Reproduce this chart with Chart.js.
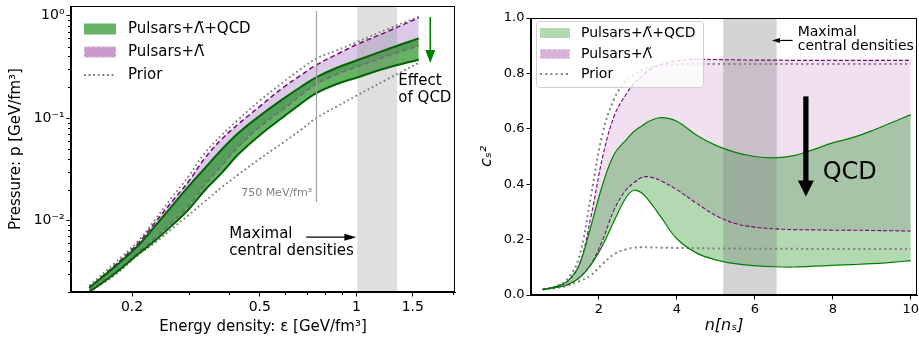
<!DOCTYPE html>
<html><head><meta charset="utf-8">
<script src="https://cdn.jsdelivr.net/npm/chart.js@4"></script>
<style>
html,body{margin:0;padding:0;background:#fff;width:919px;height:342px;overflow:hidden}
#l{position:absolute;left:0;top:0;width:460px;height:342px}
#r{position:absolute;left:460px;top:0;width:459px;height:342px}
</style></head><body>
<div id="l"><canvas id="cl"></canvas></div>
<div id="r"><canvas id="cr"></canvas></div>
<script>
// ---------- Left panel data: pressure vs energy density ----------
const epsilon     = [0.147,0.176,0.209,0.235,0.265,0.300,0.336,0.380,0.428,0.50,0.593,0.669,0.75,0.87,1.0,1.25,1.565];
const pQcdUpper   = [0.0022,0.0035,0.0057,0.0087,0.0136,0.0215,0.032,0.049,0.071,0.105,0.155,0.20,0.25,0.31,0.365,0.47,0.60];
const pQcdLower   = [0.0020,0.0030,0.0047,0.0063,0.0088,0.0128,0.0195,0.029,0.044,0.068,0.103,0.137,0.175,0.215,0.248,0.31,0.372];
const pPulsUpper  = [0.0022,0.0036,0.0060,0.0094,0.015,0.024,0.040,0.062,0.087,0.13,0.20,0.26,0.33,0.42,0.52,0.70,0.956];
const pPulsLower  = [0.0021,0.0031,0.0049,0.0067,0.0095,0.014,0.022,0.034,0.052,0.082,0.122,0.165,0.215,0.268,0.315,0.405,0.508];
const pPriorUpper = [0.0023,0.0038,0.0063,0.0100,0.0165,0.027,0.045,0.068,0.096,0.148,0.225,0.30,0.38,0.46,0.55,0.74,0.975];
const pPriorLower = [0.0020,0.0029,0.0046,0.0060,0.0082,0.0113,0.0152,0.021,0.028,0.040,0.058,0.076,0.10,0.13,0.165,0.24,0.345];
const leftXTicks  = [0.2,0.5,1,1.5];
const leftXLabels = ['0.2','0.5','1','1.5'];
const leftXMinor  = [0.3,0.4,0.6,0.7,0.8,0.9,2];
const leftYTicks  = [1,0.1,0.01];
const leftYLabels = ['10⁰','10⁻¹','10⁻²'];
const leftYMinor  = [0.002,0.003,0.004,0.005,0.006,0.007,0.008,0.009,0.02,0.03,0.04,0.05,0.06,0.07,0.08,0.09,0.2,0.3,0.4,0.5,0.6,0.7,0.8,0.9];

// ---------- Right panel data: speed of sound squared vs density ----------
const nDensity    = [0.56,0.9,1.2,1.5,1.8,2.1,2.4,2.7,2.9,3.1,3.3,3.6,4.0,4.5,5.0,5.5,6.0,6.5,7.0,7.5,8.0,8.5,9.0,9.5,10.0];
const cQcdUpper   = [0.02,0.03,0.05,0.11,0.25,0.40,0.51,0.56,0.59,0.61,0.628,0.64,0.627,0.578,0.54,0.515,0.50,0.495,0.503,0.525,0.549,0.568,0.593,0.622,0.651];
const cQcdLower   = [0.02,0.027,0.037,0.062,0.11,0.18,0.27,0.352,0.378,0.368,0.338,0.28,0.203,0.152,0.127,0.113,0.106,0.102,0.101,0.104,0.107,0.110,0.113,0.118,0.124];
const cPulsUpper  = [0.02,0.03,0.05,0.11,0.285,0.50,0.649,0.725,0.763,0.79,0.813,0.832,0.845,0.851,0.85,0.849,0.848,0.848,0.847,0.847,0.847,0.847,0.847,0.847,0.847];
const cPulsLower  = [0.02,0.027,0.037,0.063,0.112,0.20,0.31,0.38,0.405,0.424,0.426,0.412,0.38,0.332,0.287,0.258,0.245,0.239,0.236,0.235,0.234,0.234,0.233,0.232,0.231];
const cPriorUpper = [0.02,0.031,0.058,0.14,0.36,0.585,0.71,0.775,0.795,0.812,0.822,0.83,0.833,0.834,0.834,0.834,0.834,0.834,0.834,0.834,0.834,0.834,0.834,0.834,0.834];
const cPriorLower = [0.02,0.025,0.034,0.05,0.072,0.113,0.148,0.165,0.171,0.172,0.172,0.171,0.17,0.169,0.168,0.168,0.167,0.167,0.167,0.166,0.166,0.166,0.166,0.166,0.166];
const rightXTicks = [2,4,6,8,10];
const rightYTicks = [0,0.2,0.4,0.6,0.8,1.0];

const labelQcd = 'Pulsars+Λ̃+QCD';
const labelPuls = 'Pulsars+Λ̃';
const labelPrior = 'Prior';

// ---------- helpers ----------
const FAM = '"DejaVu Sans", sans-serif';
const f = (s, st) => (st ? st + ' ' : '') + s + 'px ' + FAM;
Chart.defaults.color = '#000';
Chart.defaults.font.family = FAM;

const pts = (xs, ys) => xs.map((x, i) => ({x, y: ys[i]}));
function ds(label, xs, ys, opt) {
  return Object.assign({label, data: pts(xs, ys), pointRadius: 0, pointHoverRadius: 0, fill: false,
    tension: 0.4, borderJoinStyle: 'round'}, opt);
}
function drawArrow(ctx, x0, y0, x1, y1, color, shaft, headW, headL) {
  const ang = Math.atan2(y1 - y0, x1 - x0), len = Math.hypot(x1 - x0, y1 - y0);
  ctx.save(); ctx.translate(x0, y0); ctx.rotate(ang);
  ctx.strokeStyle = color; ctx.fillStyle = color; ctx.lineWidth = shaft; ctx.lineCap = 'butt';
  ctx.beginPath(); ctx.moveTo(0, 0); ctx.lineTo(len - headL + 1, 0); ctx.stroke();
  ctx.beginPath(); ctx.moveTo(len, 0); ctx.lineTo(len - headL, headW / 2); ctx.lineTo(len - headL, -headW / 2); ctx.closePath(); ctx.fill();
  ctx.restore();
}
function makeNotes(cfg) {
  return {
    id: 'notes',
    beforeDatasetsDraw(chart) {
      const {ctx, chartArea: a, scales: {x, y}} = chart;
      ctx.save();
      ctx.beginPath(); ctx.rect(a.left, a.top, a.right - a.left, a.bottom - a.top); ctx.clip();
      (cfg.vspans || []).forEach(s => {
        const p0 = x.getPixelForValue(s.x0), p1 = x.getPixelForValue(s.x1);
        ctx.fillStyle = s.color; ctx.fillRect(p0, a.top, p1 - p0, a.bottom - a.top);
      });
      ctx.restore();
    },
    afterDatasetsDraw(chart) {
      const {ctx, scales: {x, y}} = chart;
      ctx.save();
      (cfg.vlines || []).forEach(v => {
        const px = Math.round(x.getPixelForValue(v.x)) + 0.5;
        ctx.strokeStyle = v.color; ctx.lineWidth = v.width;
        ctx.beginPath(); ctx.moveTo(px, y.getPixelForValue(v.y0)); ctx.lineTo(px, y.getPixelForValue(v.y1)); ctx.stroke();
      });
      (cfg.arrows || []).forEach(r => drawArrow(ctx, x.getPixelForValue(r.x0), y.getPixelForValue(r.y0),
        x.getPixelForValue(r.x1), y.getPixelForValue(r.y1), r.color, r.shaft, r.headW, r.headL));
      (cfg.texts || []).forEach(t => {
        ctx.font = t.font; ctx.fillStyle = t.color || '#000';
        ctx.textAlign = t.align || 'left'; ctx.textBaseline = 'middle';
        ctx.fillText(t.text, x.getPixelForValue(t.x), y.getPixelForValue(t.y));
      });
      const L = cfg.legend;
      if (L.box) {
        const b = L.box, r = 3;
        ctx.beginPath();
        ctx.moveTo(b.x + r, b.y); ctx.arcTo(b.x + b.w, b.y, b.x + b.w, b.y + b.h, r);
        ctx.arcTo(b.x + b.w, b.y + b.h, b.x, b.y + b.h, r); ctx.arcTo(b.x, b.y + b.h, b.x, b.y, r);
        ctx.arcTo(b.x, b.y, b.x + b.w, b.y, r); ctx.closePath();
        ctx.fillStyle = 'rgba(255,255,255,0.8)'; ctx.fill();
        ctx.strokeStyle = '#d0d0d0'; ctx.lineWidth = 1; ctx.stroke();
      }
      L.items.forEach((it, i) => {
        const cy = L.rows[i];
        if (it.type === 'patch') {
          ctx.fillStyle = it.fill; ctx.fillRect(L.x, cy - L.h / 2, L.w, L.h);
          if (it.edge) { ctx.setLineDash([3, 2]); ctx.strokeStyle = it.edge; ctx.lineWidth = 1;
            ctx.strokeRect(L.x + 0.5, cy - L.h / 2 + 0.5, L.w - 1, L.h - 1); ctx.setLineDash([]); }
        } else {
          ctx.setLineDash(it.dash); ctx.strokeStyle = it.color; ctx.lineWidth = it.width;
          ctx.beginPath(); ctx.moveTo(L.x, cy); ctx.lineTo(L.x + L.w, cy); ctx.stroke(); ctx.setLineDash([]);
        }
        ctx.font = L.font; ctx.fillStyle = '#000'; ctx.textAlign = 'left'; ctx.textBaseline = 'middle';
        ctx.fillText(chart.data.datasets[it.ds].label, L.textX, cy);
      });
      ctx.restore();
    },
    afterDraw(chart) {
      const {ctx, chartArea: a, scales: {x, y}} = chart;
      ctx.save();
      ctx.strokeStyle = '#000'; ctx.lineWidth = 1;
      ctx.strokeRect(Math.round(a.left) - 0.5, Math.round(a.top) + 0.5, Math.round(a.right - a.left), Math.round(a.bottom - a.top) - 1);
      (cfg.minorX || []).forEach(v => { const p = Math.round(x.getPixelForValue(v)) + 0.5;
        ctx.beginPath(); ctx.moveTo(p, a.bottom); ctx.lineTo(p, a.bottom + 3); ctx.stroke(); });
      (cfg.minorY || []).forEach(v => { const p = Math.round(y.getPixelForValue(v)) + 0.5;
        ctx.beginPath(); ctx.moveTo(a.left, p); ctx.lineTo(a.left - 3, p); ctx.stroke(); });
      ctx.restore();
    }
  };
}
function fixAxis(size, horiz) {
  return function (scale) {
    if (horiz) scale.height = size; else scale.width = size;
    scale.paddingTop = 0; scale.paddingBottom = 0; scale.paddingLeft = 0; scale.paddingRight = 0;
  };
}
const gridOpt = {display: true, drawOnChartArea: false, drawTicks: true, tickLength: 4.5, tickColor: '#000', tickWidth: 1};
const borderOpt = {display: true, color: '#000', width: 1};

// ---------- Left chart ----------
new Chart(document.getElementById('cl'), {
  type: 'line',
  data: {datasets: [
    ds(labelQcd, epsilon, pQcdUpper, {borderColor: '#006400', borderWidth: 2, fill: 1, backgroundColor: 'rgba(0,128,0,0.6)'}),
    ds('', epsilon, pQcdLower, {borderColor: '#006400', borderWidth: 2}),
    ds(labelPuls, epsilon, pPulsUpper, {borderColor: '#800080', borderWidth: 1.5, borderDash: [5, 3], fill: 3, backgroundColor: 'rgba(148,103,189,0.35)'}),
    ds('', epsilon, pPulsLower, {borderColor: '#6a706a', borderWidth: 1.5, borderDash: [5, 3]}),
    ds(labelPrior, epsilon, pPriorUpper, {borderColor: '#7a7a7a', borderWidth: 1.8, borderDash: [1.8, 2.8]}),
    ds('', epsilon, pPriorLower, {borderColor: '#7a7a7a', borderWidth: 1.8, borderDash: [1.8, 2.8]})
  ]},
  options: {
    responsive: true, maintainAspectRatio: false, animation: false, devicePixelRatio: 1,
    layout: {padding: {left: 0, right: 5, top: 6, bottom: 0}},
    plugins: {legend: {display: false}, tooltip: {enabled: false}, filler: {propagate: false, drawTime: 'beforeDatasetsDraw'}},
    scales: {
      x: {type: 'logarithmic', min: 0.129, max: 2.03, bounds: 'data',
        afterBuildTicks: s => { s.ticks = leftXTicks.map(v => ({value: v})); },
        afterFit: fixAxis(50, true),
        ticks: {autoSkip: false, maxRotation: 0, padding: 2, font: {size: 14},
          callback: (v) => { const i = leftXTicks.findIndex(t => Math.abs(t - v) < 1e-9); return i >= 0 ? leftXLabels[i] : ''; }},
        grid: gridOpt, border: borderOpt,
        title: {display: true, text: 'Energy density: ε [GeV/fm³]', font: {size: 15}, padding: {top: 0, bottom: 6}}},
      y: {type: 'logarithmic', min: 0.002, max: 1.244, bounds: 'data',
        afterBuildTicks: s => { s.ticks = leftYTicks.map(v => ({value: v})); },
        afterFit: fixAxis(71, false),
        ticks: {autoSkip: false, padding: 2, font: {size: 14},
          callback: (v) => { const i = leftYTicks.findIndex(t => Math.abs(t - v) < 1e-9); return i >= 0 ? leftYLabels[i] : ''; }},
        grid: gridOpt, border: borderOpt,
        title: {display: true, text: 'Pressure: p [GeV/fm³]', font: {size: 15}, padding: {top: 7, bottom: 0}}}
    }
  },
  plugins: [makeNotes({
    vspans: [{x0: 1.007, x1: 1.34, color: 'rgba(128,128,128,0.25)'}],
    vlines: [{x: 0.75, y0: 0.0151, y1: 1.11, color: '#a0a0a0', width: 1.2}],
    arrows: [
      {x0: 0.698, y0: 0.00687, x1: 1.0, y1: 0.00687, color: '#000', shaft: 1.2, headW: 7, headL: 12},
      {x0: 1.70, y0: 0.97, x1: 1.70, y1: 0.345, color: '#008000', shaft: 1.6, headW: 10, headL: 13}
    ],
    texts: [
      {x: 0.728, y: 0.0185, text: '750 MeV/fm³', font: f(11), color: '#808080', align: 'right'},
      {x: 0.402, y: 0.00735, text: 'Maximal', font: f(15)},
      {x: 0.402, y: 0.00501, text: 'central densities', font: f(15)},
      {x: 1.352, y: 0.230, text: 'Effect', font: f(15)},
      {x: 1.352, y: 0.157, text: 'of QCD', font: f(15)}
    ],
    legend: {x: 84, w: 32, h: 11, textX: 128, rows: [29, 52, 75], font: f(15), box: null,
      items: [
        {type: 'patch', fill: 'rgba(0,128,0,0.6)', ds: 0},
        {type: 'patch', fill: 'rgba(128,0,128,0.4)', edge: 'rgba(255,255,255,0.45)', ds: 2},
        {type: 'line', color: '#7a7a7a', dash: [1.8, 2.8], width: 1.8, ds: 4}
      ]},
    minorX: leftXMinor, minorY: leftYMinor
  })]
});

// ---------- Right chart ----------
new Chart(document.getElementById('cr'), {
  type: 'line',
  data: {datasets: [
    ds(labelQcd, nDensity, cQcdUpper, {borderColor: '#008000', borderWidth: 1.2, fill: 1, backgroundColor: 'rgba(0,128,0,0.3)'}),
    ds('', nDensity, cQcdLower, {borderColor: '#008000', borderWidth: 1.2}),
    ds(labelPuls, nDensity, cPulsUpper, {borderColor: '#800080', borderWidth: 1.1, borderDash: [4, 2], fill: 3, backgroundColor: 'rgba(128,0,128,0.12)'}),
    ds('', nDensity, cPulsLower, {borderColor: '#800080', borderWidth: 1.1, borderDash: [4, 2]}),
    ds(labelPrior, nDensity, cPriorUpper, {borderColor: '#808080', borderWidth: 2, borderDash: [2, 3.2]}),
    ds('', nDensity, cPriorLower, {borderColor: '#808080', borderWidth: 2, borderDash: [2, 3.2]})
  ]},
  options: {
    responsive: true, maintainAspectRatio: false, animation: false, devicePixelRatio: 1,
    layout: {padding: {left: 0, right: 2, top: 18, bottom: 0}},
    plugins: {legend: {display: false}, tooltip: {enabled: false}, filler: {propagate: false, drawTime: 'beforeDatasetsDraw'}},
    scales: {
      x: {type: 'linear', min: 0.26, max: 10.16, bounds: 'data',
        afterBuildTicks: s => { s.ticks = rightXTicks.map(v => ({value: v})); },
        afterFit: fixAxis(47, true),
        ticks: {autoSkip: false, maxRotation: 0, padding: 2, font: {size: 13}, callback: v => String(v)},
        grid: gridOpt, border: borderOpt,
        title: {display: true, text: 'n[nₛ]', font: {size: 16, style: 'italic'}, padding: {top: 0, bottom: 7}}},
      y: {type: 'linear', min: 0, max: 1, bounds: 'data',
        afterBuildTicks: s => { s.ticks = rightYTicks.map(v => ({value: v})); },
        afterFit: fixAxis(71, false),
        ticks: {autoSkip: false, padding: 2, font: {size: 13}, callback: v => Number(v).toFixed(1)},
        grid: gridOpt, border: borderOpt,
        title: {display: true, text: 'cₛ²', font: {size: 16, style: 'italic'}, padding: {top: 17, bottom: 0}}}
    }
  },
  plugins: [makeNotes({
    vspans: [{x0: 5.19, x1: 6.56, color: 'rgba(128,128,128,0.35)'}],
    arrows: [
      {x0: 6.97, y0: 0.919, x1: 6.44, y1: 0.919, color: '#000', shaft: 1.2, headW: 5, headL: 8},
      {x0: 7.31, y0: 0.717, x1: 7.31, y1: 0.356, color: '#000', shaft: 5.3, headW: 16, headL: 16}
    ],
    texts: [
      {x: 7.10, y: 0.948, text: 'Maximal', font: f(14)},
      {x: 7.10, y: 0.898, text: 'central densities', font: f(14)},
      {x: 7.74, y: 0.442, text: 'QCD', font: f(24)}
    ],
    legend: {x: 80, w: 30, h: 10, textX: 121, rows: [33, 54, 74], font: f(14),
      box: {x: 76.5, y: 21.5, w: 167, h: 66},
      items: [
        {type: 'patch', fill: 'rgba(0,128,0,0.3)', ds: 0},
        {type: 'patch', fill: 'rgba(128,0,128,0.3)', edge: 'rgba(255,255,255,0.5)', ds: 2},
        {type: 'line', color: '#808080', dash: [2, 3.2], width: 2, ds: 4}
      ]}
  })]
});
</script>
</body></html>
